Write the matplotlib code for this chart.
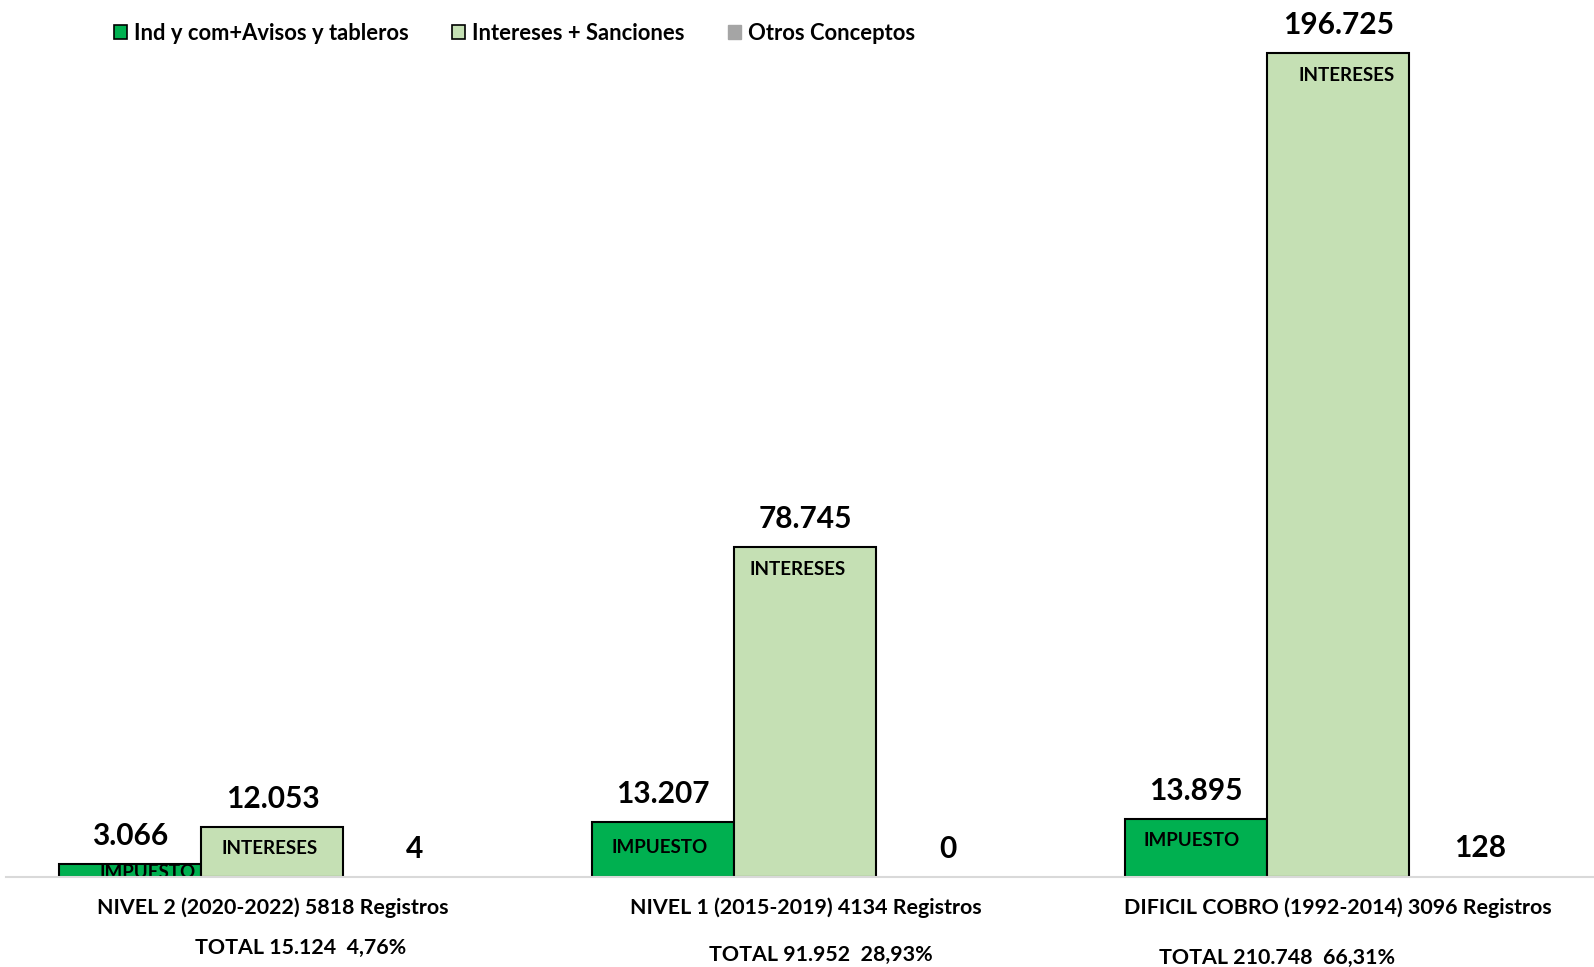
import matplotlib
matplotlib.use("Agg")
import matplotlib.pyplot as plt
from matplotlib.patches import Patch

# ==================================
# DATA
# ==================================

categorias = [
    "NIVEL 2 (2020-2022) 5818 Registros",
    "NIVEL 1 (2015-2019) 4134 Registros",
    "DIFICIL COBRO (1992-2014) 3096 Registros",
]
totales = [
    "TOTAL 15.124  4,76%",
    "TOTAL 91.952  28,93%",
    "TOTAL 210.748  66,31%",
]
series = ["Ind y com+Avisos y tableros", "Intereses + Sanciones", "Otros Conceptos"]
impuesto = [3066, 13207, 13895]
intereses = [12053, 78745, 196725]
otros = [4, 0, 128]

colores = ["#00B050", "#C5E0B4", "#A5A5A5"]

# ==================================
# FIGURE
# ==================================

plt.rcParams["font.family"] = ["Lato", "DejaVu Sans"]
plt.rcParams["font.weight"] = "bold"

fig = plt.figure(figsize=(15.94, 9.67), dpi=100)
ax = fig.add_axes([6 / 1594, 90 / 967, 1588 / 1594, 877 / 967])

PX = 72 / 100  # points per pixel

w = 0.8 / 3
x = range(len(categorias))
valores = [impuesto, intereses, otros]

for i, (vals, col) in enumerate(zip(valores, colores)):
    pos = [c + (i - 1) * w for c in x]
    if i < 2:
        ax.bar(pos, vals, width=w, color=col, edgecolor="black", linewidth=1.5, zorder=2)
    else:
        ax.bar(pos, vals, width=w, color=col, linewidth=0, zorder=1)
    for p, v in zip(pos, vals):
        ax.annotate(
            f"{v:,}".replace(",", "."),
            (p, v),
            xytext=(0, 28 * PX),
            textcoords="offset points",
            ha="center",
            va="center",
            fontsize=21.5,
            fontweight="bold",
        )

# labels inside the bars
imp_dx = [17, -4, -4]
imp_dy = [-8, -26, -22]
int_dx = [-3, -8, 8]
for c in x:
    ax.annotate(
        "IMPUESTO",
        (c - w, impuesto[c]),
        xytext=(imp_dx[c] * PX, imp_dy[c] * PX),
        textcoords="offset points",
        ha="center",
        va="center",
        fontsize=13.5,
        fontweight="bold",
        clip_on=True,
        annotation_clip=True,
    )
    ax.annotate(
        "INTERESES",
        (c, intereses[c]),
        xytext=(int_dx[c] * PX, -22 * PX),
        textcoords="offset points",
        ha="center",
        va="center",
        fontsize=13.5,
        fontweight="bold",
    )

# category labels (two lines)
tot_dx = [28, 16, -61]
tot_dy = [71, 78, 81]
for c in x:
    ax.annotate(
        categorias[c],
        (c, 0),
        xycoords=("data", "axes fraction"),
        xytext=(0, -31 * PX),
        textcoords="offset points",
        ha="center",
        va="center",
        fontsize=15.4,
        fontweight="bold",
        annotation_clip=False,
    )
    ax.annotate(
        totales[c],
        (c, 0),
        xycoords=("data", "axes fraction"),
        xytext=(tot_dx[c] * PX, -tot_dy[c] * PX),
        textcoords="offset points",
        ha="center",
        va="center",
        fontsize=15.4,
        fontweight="bold",
        annotation_clip=False,
    )

ax.set_xlim(-0.5, 2.48)
ax.set_ylim(0, 209400)
ax.set_xticks([])
ax.set_yticks([])
for s in ["top", "right", "left"]:
    ax.spines[s].set_visible(False)
ax.spines["bottom"].set_color("#D9D9D9")
ax.spines["bottom"].set_linewidth(1.5)
ax.spines["bottom"].set_zorder(3)
ax.set_facecolor("none")

# ==================================
# LEGEND
# ==================================

handles = [
    Patch(facecolor=colores[0], edgecolor="black", linewidth=1.2),
    Patch(facecolor=colores[1], edgecolor="black", linewidth=1.2),
    Patch(facecolor=colores[2], edgecolor=colores[2]),
]
fig.legend(
    handles,
    series,
    loc="center left",
    bbox_to_anchor=(94 / 1594, 1 - 33 / 967),
    ncol=3,
    frameon=False,
    fontsize=15.8,
    handlelength=0.6,
    handleheight=0.6,
    handletextpad=0.3,
    columnspacing=2.0,
)

fig.savefig("out.png", dpi=100)
